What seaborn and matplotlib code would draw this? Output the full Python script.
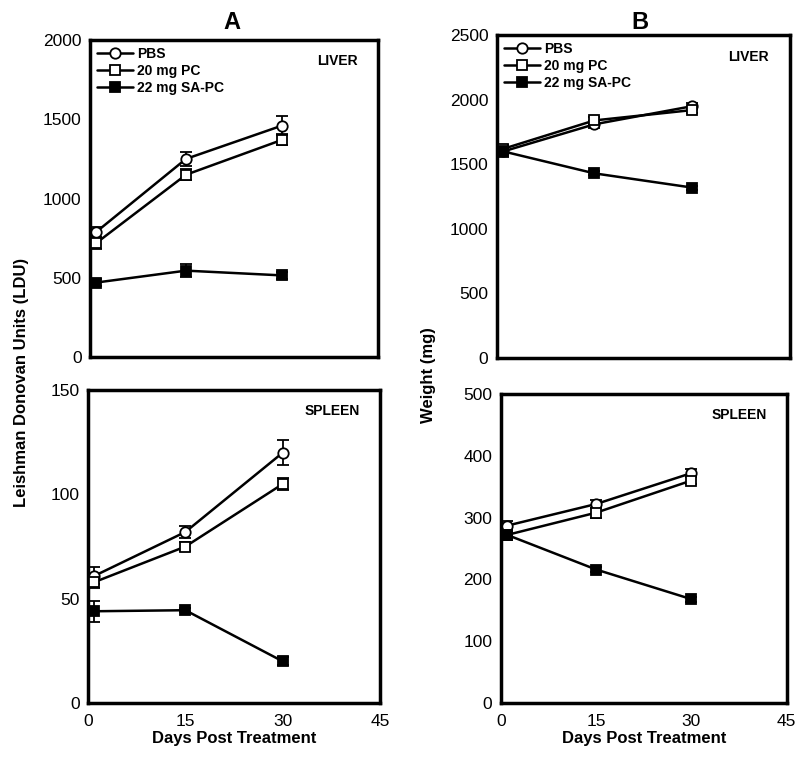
import pandas as pd
import matplotlib.pyplot as plt
import seaborn as sns

# days post treatment
days = [1, 15, 30]
groups = ['PBS', '20 mg PC', '22 mg SA-PC']

# A - parasite burden (LDU)
ldu_liver = {'PBS': [790, 1250, 1460], '20 mg PC': [720, 1150, 1370], '22 mg SA-PC': [470, 545, 515]}
ldu_liver_err = {'PBS': [30, 45, 60], '20 mg PC': [40, 35, 35], '22 mg SA-PC': [20, 40, 20]}
ldu_spleen = {'PBS': [61, 82, 120], '20 mg PC': [58, 75, 105], '22 mg SA-PC': [44, 44.5, 20]}
ldu_spleen_err = {'PBS': [4, 3, 6], '20 mg PC': [3, 2, 3], '22 mg SA-PC': [5, 1, 2]}

# B - organ weight (mg)
wt_liver = {'PBS': [1600, 1810, 1950], '20 mg PC': [1620, 1840, 1920], '22 mg SA-PC': [1600, 1430, 1320]}
wt_liver_err = {'PBS': [30, 25, 25], '20 mg PC': [30, 25, 25], '22 mg SA-PC': [40, 15, 15]}
wt_spleen = {'PBS': [287, 322, 372], '20 mg PC': [272, 308, 360], '22 mg SA-PC': [272, 216, 168]}
wt_spleen_err = {'PBS': [8, 6, 6], '20 mg PC': [8, 8, 6], '22 mg SA-PC': [6, 4, 4]}

markers = {'PBS': 'o', '20 mg PC': 's', '22 mg SA-PC': 's'}
faces = {'PBS': 'white', '20 mg PC': 'white', '22 mg SA-PC': 'black'}

sns.set_style("white")
plt.rcParams['font.family'] = ['Liberation Sans', 'DejaVu Sans']
plt.rcParams['text.color'] = 'black'
plt.rcParams['xtick.color'] = 'black'
plt.rcParams['ytick.color'] = 'black'
plt.rcParams['axes.labelcolor'] = 'black'

fig = plt.figure(figsize=(8, 7.65), dpi=100)
ax_al = fig.add_axes([0.1125, 0.5333, 0.36, 0.4144])
ax_as = fig.add_axes([0.11, 0.081, 0.365, 0.409])
ax_bl = fig.add_axes([0.621, 0.532, 0.366, 0.422])
ax_bs = fig.add_axes([0.626, 0.081, 0.3575, 0.404])


def draw(ax, vals, errs, ymax, ystep, organ, legend=False, xlabels=False):
    rows = []
    for g in groups:
        for d, v in zip(days, vals[g]):
            rows.append({'day': d, 'value': v, 'group': g})
    df = pd.DataFrame(rows)
    for g in groups:
        sub = df[df['group'] == g]
        ax.errorbar(sub['day'], sub['value'], yerr=errs[g], fmt='none',
                    ecolor='black', elinewidth=1.3, capsize=4, capthick=1.3, zorder=2)
        sns.lineplot(data=sub, x='day', y='value', ax=ax, color='black', lw=1.8,
                     marker=markers[g], markersize=7.5, markerfacecolor=faces[g],
                     markeredgecolor='black', markeredgewidth=1.3, label=g,
                     legend=legend, zorder=3)
    ax.set_xlim(0, 45)
    ax.set_ylim(0, ymax)
    ax.set_xticks([0, 15, 30, 45])
    ax.set_yticks(range(0, ymax + 1, ystep))
    ax.tick_params(axis='x', direction='in', length=4, width=1, labelsize=12.5, pad=8)
    ax.tick_params(axis='y', length=0, labelsize=12.5, pad=6)
    if not xlabels:
        ax.set_xticklabels([])
    ax.set_xlabel('')
    ax.set_ylabel('')
    for s in ax.spines.values():
        s.set_linewidth(2.5)
        s.set_color('black')
    ax.text(0.93, 0.955, organ, transform=ax.transAxes, ha='right', va='top',
            fontsize=10, fontweight='bold')
    if legend:
        ax.legend(loc='upper left', frameon=False, handlelength=2.6, handletextpad=0.3,
                  labelspacing=0.2, borderaxespad=0.3, borderpad=0.2,
                  prop={'weight': 'bold', 'size': 10})


draw(ax_al, ldu_liver, ldu_liver_err, 2000, 500, 'LIVER', legend=True)
draw(ax_as, ldu_spleen, ldu_spleen_err, 150, 50, 'SPLEEN', xlabels=True)
draw(ax_bl, wt_liver, wt_liver_err, 2500, 500, 'LIVER', legend=True)
draw(ax_bs, wt_spleen, wt_spleen_err, 500, 100, 'SPLEEN', xlabels=True)

for ax in (ax_as, ax_bs):
    ax.set_xlabel('Days Post Treatment', fontsize=12, fontweight='bold', labelpad=1)

fig.text(0.29, 0.962, 'A', fontsize=17, fontweight='bold', ha='center')
fig.text(0.80, 0.962, 'B', fontsize=17, fontweight='bold', ha='center')
fig.text(0.027, 0.5, 'Leishman Donovan Units (LDU)', rotation=90, fontsize=12,
         fontweight='bold', ha='center', va='center')
fig.text(0.535, 0.51, 'Weight (mg)', rotation=90, fontsize=12,
         fontweight='bold', ha='center', va='center')

plt.savefig('out.png', dpi=100)
